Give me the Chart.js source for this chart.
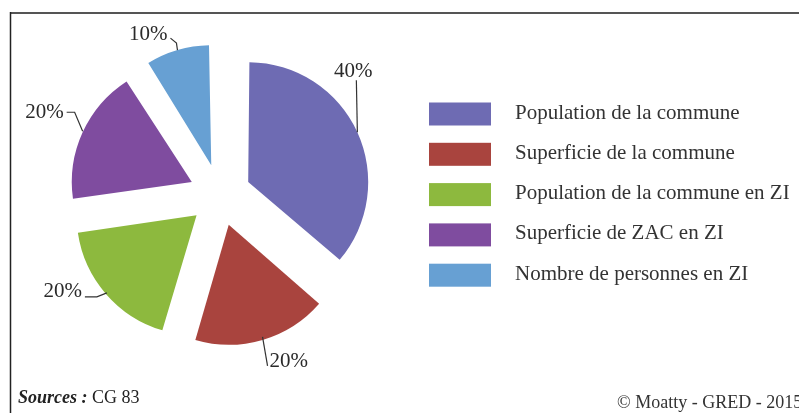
<!DOCTYPE html>
<html>
<head>
<meta charset="utf-8">
<script src="https://cdn.jsdelivr.net/npm/chart.js@4/dist/chart.umd.min.js"></script>
<style>
  html, body { margin: 0; padding: 0; background: #fff; }
  #wrap { width: 799px; height: 413px; position: relative; }
</style>
</head>
<body>
<div id="wrap"><canvas id="pieZI"></canvas></div>
<script>
// données
const categories = ["Population de la commune", "Superficie de la commune", "Population de la commune en ZI", "Superficie de ZAC en ZI", "Nombre de personnes en ZI"];
const values = [40, 20, 20, 20, 10];
const colors = ["#6E6BB3", "#A9443E", "#8DB93E", "#7F4C9F", "#67A0D3"];
const sourceText = "CG 83";
const copyright = "\u00A9 Moatty - GRED - 2015";

// placement des étiquettes (relatif au bord de chaque part)
const leaders = [
  { path: [[0, 0], [-1, -52]], text: [-4, -55], align: "center" },
  { path: [[0, -3], [5, 26]], text: [7, 27], align: "left" },
  { path: [[1, -1], [-9, 3], [-21, 3]], text: [-24, 3], align: "right" },
  { path: [[0, -1], [-8, -20], [-16, -20]], text: [-19, -14], align: "right" },
  { path: [[0, 0], [-1, -7], [-7, -12]], text: [-10, -10], align: "right" },
];

const SERIF = "'Liberation Serif', 'Times New Roman', serif";
const RADIUS = 120;
const EXPLODE = 31; // écart des parts en pixels (Chart.js translate de offset/4)

// Chart.js grossit aussi le rayon de offset/4 * (1 - sin(angle)) : on le compense
const fixRadius = {
  id: "fixRadius",
  beforeDatasetsDraw(chart) {
    chart.getDatasetMeta(0).data.forEach((arc) => {
      const circ = arc.endAngle - arc.startAngle;
      arc.outerRadius = RADIUS - EXPLODE * (1 - Math.sin(Math.min(Math.PI, circ)));
    });
  },
};

const decor = {
  id: "decor",
  beforeDraw(chart) {
    const c = chart.ctx;
    c.save();
    c.fillStyle = "#fff";
    c.fillRect(0, 0, chart.width, chart.height);
    c.strokeStyle = "#555";
    c.lineWidth = 2;
    c.beginPath(); c.moveTo(10, 13); c.lineTo(chart.width, 13); c.stroke();
    c.strokeStyle = "#222";
    c.lineWidth = 1.5;
    c.beginPath(); c.moveTo(10.5, 12); c.lineTo(10.5, chart.height); c.stroke();
    c.restore();
  },
  afterDatasetsDraw(chart) {
    const c = chart.ctx;
    const arcs = chart.getDatasetMeta(0).data;
    c.save();
    c.font = "21px " + SERIF;
    c.textBaseline = "alphabetic";
    arcs.forEach((arc, i) => {
      const { x, y, startAngle, endAngle } = arc.getProps(["x", "y", "startAngle", "endAngle"], true);
      const mid = (startAngle + endAngle) / 2;
      const r = RADIUS + EXPLODE;
      const ax = x + Math.cos(mid) * r, ay = y + Math.sin(mid) * r;
      const l = leaders[i];
      c.strokeStyle = "#333";
      c.lineWidth = 1.2;
      c.beginPath();
      l.path.forEach((p, k) => (k ? c.lineTo(ax + p[0], ay + p[1]) : c.moveTo(ax + p[0], ay + p[1])));
      c.stroke();
      c.fillStyle = "#2a2a2a";
      c.textAlign = l.align;
      c.fillText(values[i] + "%", ax + l.text[0], ay + l.text[1]);
    });

    // légende
    const ds = chart.data.datasets[0];
    chart.data.labels.forEach((lab, i) => {
      const top = 102.5 + i * 40.3;
      c.fillStyle = ds.backgroundColor[i];
      c.fillRect(429, top, 62, 23);
      c.fillStyle = "#333";
      c.textAlign = "left";
      c.fillText(lab, 515, top + 16);
    });

    // sources
    c.font = "bold italic 18px " + SERIF;
    c.fillStyle = "#222";
    c.fillText("Sources :", 18, 403);
    const w = c.measureText("Sources : ").width;
    c.font = "18px " + SERIF;
    c.fillText(sourceText, 18 + w, 403);
    c.fillStyle = "#333";
    c.fillText(copyright, 617, 408);
    c.restore();
  },
};

new Chart(document.getElementById("pieZI").getContext("2d"), {
  type: "pie",
  data: { labels: categories, datasets: [{ data: values, backgroundColor: colors, borderWidth: 0, offset: EXPLODE * 4, hoverOffset: 0 }] },
  options: {
    responsive: true,
    maintainAspectRatio: false,
    animation: false,
    radius: RADIUS,
    layout: { padding: { left: 20, right: 379, top: 20, bottom: 43 } },
    plugins: { legend: { display: false }, tooltip: { enabled: false } },
  },
  plugins: [fixRadius, decor],
});
</script>
</body>
</html>
